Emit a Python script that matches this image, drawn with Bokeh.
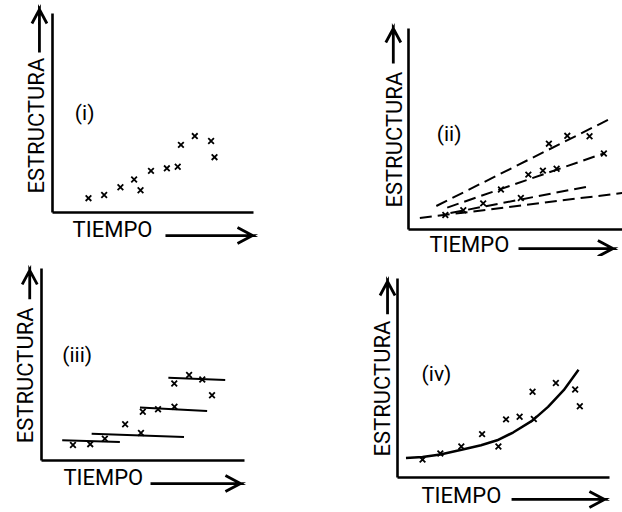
import math
from bokeh.plotting import figure
from bokeh.layouts import row, column
from bokeh.models import Range1d, FixedTicker, Label, PolyAnnotation
from bokeh.embed import file_html
from bokeh.resources import INLINE
from bokeh.core.properties import value

# ---------------- data (time, structure) ----------------
# Panel (i): scatter only
t1 = [1.79, 2.57, 3.38, 4.06, 4.38, 4.90, 5.69, 6.23, 6.39, 7.08, 7.89, 8.06]
s1 = [0.72, 0.88, 1.27, 1.66, 1.12, 2.09, 2.22, 2.30, 3.40, 3.84, 3.59, 2.78]

# Panel (ii): scatter + dashed trend lines
t2 = [1.72, 2.56, 3.49, 4.32, 5.25, 5.60, 6.28, 6.92, 6.56, 7.42, 8.46, 9.13]
s2 = [0.72, 0.96, 1.30, 1.99, 1.57, 2.73, 2.93, 3.02, 4.27, 4.66, 4.64, 3.78]
trend2_t0 = [1.30, 1.81, 1.96, 0.53]
trend2_s0 = [1.17, 1.09, 0.82, 0.57]
trend2_t1 = [9.39, 9.16, 8.30, 10.0]
trend2_s1 = [5.49, 3.80, 2.12, 1.82]

# Panel (iii): scatter + solid step segments
t3 = [1.55, 2.40, 3.12, 4.12, 4.90, 4.99, 5.74, 6.55, 6.54, 7.27, 7.92, 8.40]
s3 = [0.81, 0.85, 1.13, 1.89, 1.43, 2.54, 2.67, 2.80, 4.01, 4.45, 4.22, 3.40]
step3_t0 = [1.02, 2.47, 4.85, 6.25]
step3_s0 = [1.05, 1.39, 2.76, 4.31]
step3_t1 = [3.86, 7.02, 8.16, 9.05]
step3_s1 = [0.97, 1.23, 2.58, 4.19]

# Panel (iv): scatter + fitted curve
t4 = [1.18, 2.02, 3.01, 3.99, 4.76, 5.12, 5.76, 6.43, 6.37, 7.47, 8.38, 8.60]
s4 = [0.90, 1.21, 1.56, 2.18, 1.56, 2.92, 3.05, 2.94, 4.31, 4.75, 4.42, 3.58]
curve4_t = [0.40, 1.18, 2.02, 3.02, 3.94, 4.70, 5.45, 6.36, 7.10, 7.84, 8.54]
curve4_s = [0.98, 1.03, 1.16, 1.39, 1.62, 1.87, 2.26, 2.86, 3.55, 4.39, 5.41]

panel_names = ["(i)", "(ii)", "(iii)", "(iv)"]
x_label = "TIEMPO"
y_label = "ESTRUCTURA"

FONT = "Roboto"
INK = "black"
W, H = 311, 256


def make(ox, oy, ux, uy):
    """Panel whose drawn axes (0..10 in both directions) start at pixel (ox, oy)
    of the canvas, with ux / uy pixels per unit."""
    p = figure(width=W, height=H,
               x_range=Range1d(-ox / ux, (W - ox) / ux),
               y_range=Range1d(-(H - oy) / uy, oy / uy),
               output_backend="svg", toolbar_location=None,
               min_border_left=0, min_border_right=0,
               min_border_top=0, min_border_bottom=0)
    p.grid.visible = False
    p.outline_line_color = None
    p.background_fill_color = "white"
    p.border_fill_color = "white"
    for ax in (p.xaxis[0], p.yaxis[0]):
        ax.fixed_location = 0
        ax.bounds = (0, 10)
        ax.ticker = FixedTicker(ticks=[])
        ax.major_tick_line_color = None
        ax.minor_tick_line_color = None
        ax.major_label_text_font_size = "0px"
        ax.major_label_standoff = 0
        ax.axis_line_width = 2.6
        ax.axis_line_color = INK
    return p


def axis_titles(p, ux, uy, ylab_x, ylab_y, yarr_x, yarr_y0, yarr_y1,
                xlab_x, xlab_y, xarr_x0, xarr_x1, xarr_y):
    p.add_layout(Label(x=ylab_x, y=ylab_y, text=y_label, angle=math.pi / 2,
                       text_font=FONT, text_font_size="22px", text_color=INK,
                       text_align="left", text_baseline="middle"))
    p.add_layout(Label(x=xlab_x, y=xlab_y, text=x_label,
                       text_font=FONT, text_font_size="22px", text_color=INK,
                       text_align="left", text_baseline="middle"))
    # vertical arrow (open head)
    hw, hl = 7.5 / ux, 14 / uy
    p.add_layout(PolyAnnotation(
        xs=[yarr_x, yarr_x, yarr_x - hw, yarr_x, yarr_x + hw, yarr_x],
        ys=[yarr_y0, yarr_y1, yarr_y1 - hl, yarr_y1, yarr_y1 - hl, yarr_y1],
        fill_alpha=0, line_color=INK, line_alpha=1.0, line_width=2.8,
        line_join="miter"))
    # horizontal arrow (open head)
    hl2, hw2 = 15 / ux, 8 / uy
    p.add_layout(PolyAnnotation(
        xs=[xarr_x0, xarr_x1, xarr_x1 - hl2, xarr_x1, xarr_x1 - hl2, xarr_x1],
        ys=[xarr_y, xarr_y, xarr_y + hw2, xarr_y, xarr_y - hw2, xarr_y],
        fill_alpha=0, line_color=INK, line_alpha=1.0, line_width=2.8,
        line_join="miter"))


def crosses(p, t, s):
    p.scatter(t, s, marker="x", size=8, line_width=1.8, color=INK)


def name(p, txt, x, y):
    p.text(x=[x], y=[y], text=[txt], text_font=value(FONT), text_font_size="21px",
           text_align="center", text_baseline="middle", text_color=INK)


# (i)
p1 = make(52, 212, 20.1, 19.9)
crosses(p1, t1, s1)
name(p1, panel_names[0], 1.6, 5.0)
axis_titles(p1, 20.1, 19.9, -0.82, 0.95, -0.65, 8.04, 10.2, 1.0, -0.85, 5.62, 9.95, -1.16)

# (ii)
p2 = make(97, 229, 21.4, 20.1)
p2.segment(x0=trend2_t0, y0=trend2_s0, x1=trend2_t1, y1=trend2_s1,
           line_color=INK, line_width=2, line_dash="12 6")
crosses(p2, t2, s2)
name(p2, panel_names[1], 1.9, 4.75)
axis_titles(p2, 21.4, 20.1, -0.66, 1.09, -0.71, 8.26, 10.0, 0.98, -0.75, 5.14, 9.55, -0.95)

# (iii)
p3 = make(41, 204, 20.3, 19.2)
p3.segment(x0=step3_t0, y0=step3_s0, x1=step3_t1, y1=step3_s1,
           line_color=INK, line_width=2)
crosses(p3, t3, s3)
name(p3, panel_names[2], 1.76, 5.49)
axis_titles(p3, 20.3, 19.2, -0.81, 0.9, -0.58, 8.4, 9.9, 1.08, -0.91, 5.37, 9.8, -1.2)

# (iv)
p4 = make(86, 221, 21.2, 19.9)
p4.line(curve4_t, curve4_s, line_color=INK, line_width=2.5)
crosses(p4, t4, s4)
name(p4, panel_names[3], 1.84, 5.2)
axis_titles(p4, 21.2, 19.9, -0.71, 1.06, -0.47, 8.2, 9.85, 1.13, -0.90, 5.38, 9.76, -1.1)

layout = row(column(p1, p3), column(p2, p4))
open("out.html", "w").write(file_html(layout, INLINE))
